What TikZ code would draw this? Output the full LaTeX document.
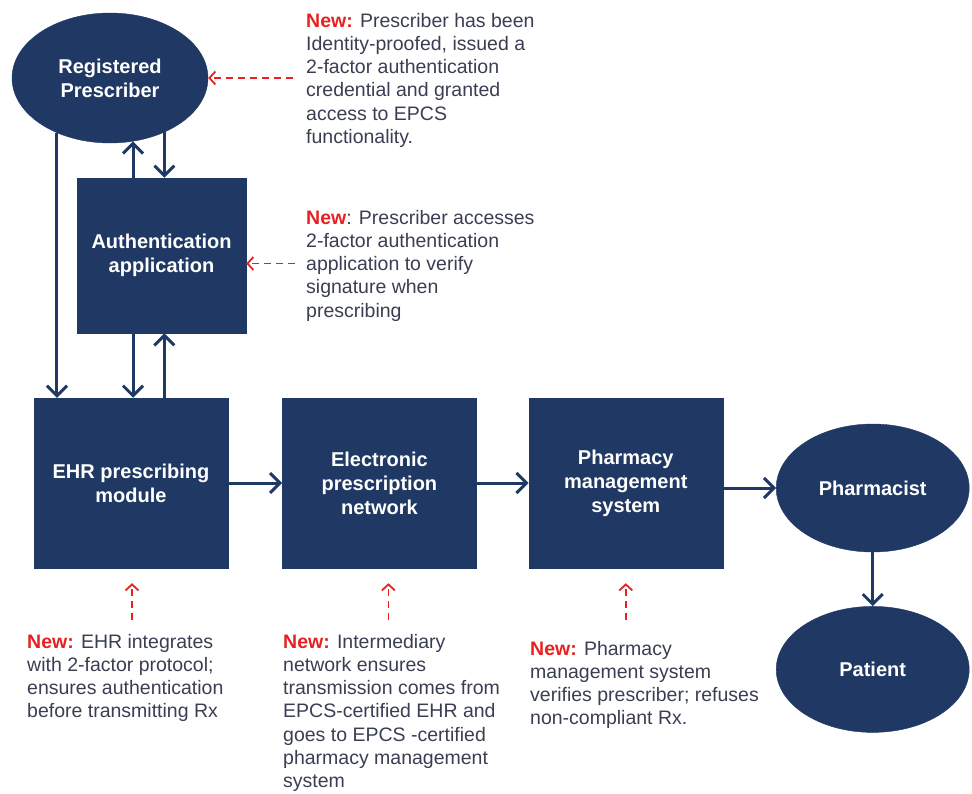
\documentclass[tikz,border=0pt]{standalone}
\usepackage{fontspec}
\setmainfont{Liberation Sans}
\usetikzlibrary{shapes.geometric, arrows.meta, positioning}
\definecolor{navy}{RGB}{31,56,100}
\definecolor{newred}{RGB}{232,32,32}
\definecolor{notegray}{RGB}{58,62,82}
\newcommand{\newtag}[1]{\textcolor{newred}{\bfseries #1}}
\tikzset{
  block/.style = {
    rectangle,
    minimum width=194pt,
    minimum height=170pt,
    inner sep=0pt,
    align=center,
    text=white,
    fill=navy,
    draw=navy,
    font=\fontsize{20}{24}\selectfont\bfseries
  },
  authblock/.style = {
    block,
    minimum width=169pt,
    minimum height=155pt
  },
  actor/.style = {
    ellipse,
    inner sep=0pt,
    align=center,
    text=white,
    fill=navy,
    draw=navy,
    font=\fontsize{20}{24}\selectfont\bfseries
  },
  note/.style = {
    anchor=north west,
    inner sep=0pt,
    align=left,
    text=notegray,
    font=\fontsize{19.5}{23.2}\selectfont
  },
  flow/.style = {
    line width=3pt,
    draw=navy,
    -{Straight Barb[length=10pt,width=20pt]}
  },
  newarrow/.style = {
    line width=1.8pt,
    draw=newred,
    dash pattern=on 7pt off 5pt,
    -{Straight Barb[length=6pt,width=13pt]}
  }
}
\begin{document}
\begin{tikzpicture}[x=1pt, y=-1pt]
\useasboundingbox (0,0) rectangle (972,793);

% ===== Prescriber side =====
\node (presc) [actor, minimum width=196pt, minimum height=130pt] at (110,78) {Registered\\Prescriber};
\node (auth) [authblock] at (161.5,255.5) {Authentication\\application};

% ===== Main row (left -> right) =====
\node (ehr) [block] at (131,483) {EHR prescribing\\module};
\node (enet) [block, right=54pt of ehr] {Electronic\\prescription\\network};
\node (pharm) [block, right=52pt of enet] {Pharmacy\\management\\system};
\node (pharmacist) [actor, minimum width=193pt, minimum height=128pt, right=53pt of pharm, yshift=-5pt] {Pharmacist};
\node (patient) [actor, minimum width=193pt, minimum height=126pt, below=54pt of pharmacist] {Patient};

% ===== Notes =====
\node (notepresc) [note] at (306,13) {\newtag{New:} Prescriber has been\\Identity-proofed, issued a\\2-factor authentication\\credential and granted\\access to EPCS\\functionality.};
\node (noteauth) [note] at (306,210) {\newtag{New}: Prescriber accesses\\2-factor authentication\\application to verify\\signature when\\prescribing};
\node (noteehr) [note] at (27,634) {\newtag{New:} EHR integrates\\with 2-factor protocol;\\ensures authentication\\before transmitting Rx};
\node (notenet) [note] at (283,634) {\newtag{New:} Intermediary\\network ensures\\transmission comes from\\EPCS-certified EHR and\\goes to EPCS -certified\\pharmacy management\\system};
\node (notepharm) [note] at (530,641) {\newtag{New:} Pharmacy\\management system\\verifies prescriber; refuses\\non-compliant Rx.};

% ===== Flow arrows =====
\draw [flow] (presc.226) -- (presc.226 |- ehr.north);
\draw [flow] (presc.290 |- auth.north) -- (presc.290);
\draw [flow] (presc.315) -- (presc.315 |- auth.north);
\draw [flow] (presc.290 |- auth.south) -- (presc.290 |- ehr.north);
\draw [flow] (presc.315 |- ehr.north) -- (presc.315 |- auth.south);

\draw [flow] (ehr) -- (enet);
\draw [flow] (enet) -- (pharm);
\draw [flow] (pharm.east |- pharmacist.west) -- (pharmacist.west);
\draw [flow] (pharmacist) -- (patient);

% ===== "New" pointers (dashed) =====
\path (presc.east -| notepresc.west) ++(-13pt,0) coordinate (prescfrom);
\draw [newarrow] (prescfrom) -- (presc.east);

\path (auth.east) ++(0,-8pt) coordinate (authin);
\path (authin -| noteauth.west) ++(-11pt,0) coordinate (authfrom);
\draw [newarrow] (authfrom) -- (authin);

\path (ehr.south) ++(1pt,-15pt) coordinate (ehrin);
\path (ehrin) ++(0,-37pt) coordinate (ehrfrom);
\draw [newarrow] (ehrfrom) -- (ehrin);

\path (enet.south) ++(9pt,-15pt) coordinate (enetin);
\path (enetin) ++(0,-37pt) coordinate (enetfrom);
\draw [newarrow] (enetfrom) -- (enetin);

\path (pharm.south) ++(0,-15pt) coordinate (pharmin);
\path (pharmin) ++(0,-37pt) coordinate (pharmfrom);
\draw [newarrow] (pharmfrom) -- (pharmin);

\end{tikzpicture}
\end{document}
